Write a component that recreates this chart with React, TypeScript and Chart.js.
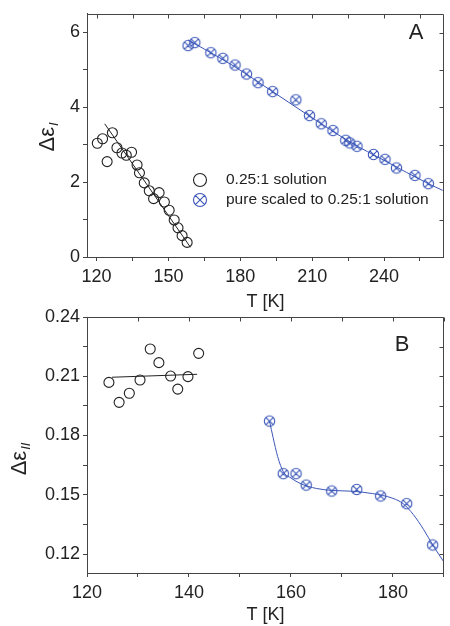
import React, { useEffect, useRef } from 'react';
import { Chart, registerables } from 'chart.js';

Chart.register(...registerables);

const FONT = '"Liberation Sans", Arial, Helvetica, sans-serif';
const BLUE = '#3a56b8';
const BLACK = '#222222';
const AXIS = '#444444';
const TEXT = '#222222';

// ---------- Panel A ----------
const solA_T = [120.3, 122.5, 124.4, 126.6, 128.5, 130.6, 132.4, 134.6, 136.9, 137.9, 139.9, 142.0, 143.8, 146.1, 148.3, 150.3, 152.4, 154.0, 155.7, 157.8];
const solA_V = [3.04, 3.16, 2.55, 3.32, 2.92, 2.78, 2.72, 2.80, 2.46, 2.25, 1.98, 1.77, 1.56, 1.72, 1.47, 1.25, 0.99, 0.78, 0.57, 0.39];
const pureA_T = [158.2, 161.0, 167.7, 172.7, 177.8, 182.6, 187.4, 193.5, 203.2, 208.9, 213.8, 218.7, 224.0, 225.7, 228.7, 235.6, 240.4, 245.2, 252.9, 258.5];
const pureA_V = [5.65, 5.73, 5.46, 5.31, 5.13, 4.89, 4.66, 4.42, 4.20, 3.78, 3.56, 3.38, 3.12, 3.05, 2.96, 2.74, 2.61, 2.38, 2.18, 1.96];
const fitSolA_T = [123.4, 159.2];
const fitSolA_V = [3.56, 0.26];
const fitPureA_T = [158.2, 161.0, 177.8, 193.5, 213.8, 225.9, 240.4, 258.5, 264.5];
const fitPureA_V = [5.80, 5.70, 5.08, 4.42, 3.56, 3.07, 2.57, 1.96, 1.78];
const xTicksA = [120, 135, 150, 165, 180, 195, 210, 225, 240, 255];
const xLabelsA = [120, 150, 180, 210, 240];
const yTicksA = [0, 1, 2, 3, 4, 5, 6];
const yLabelsA = [0, 2, 4, 6];

// ---------- Panel B ----------
const solB_T = [124.3, 126.3, 128.3, 130.4, 132.4, 134.1, 136.4, 137.8, 139.8, 141.9];
const solB_V = [0.2069, 0.1968, 0.2014, 0.2081, 0.2238, 0.2169, 0.2101, 0.2035, 0.2098, 0.2216];
const pureB_T = [155.8, 158.5, 161.0, 163.0, 168.0, 172.9, 177.6, 182.7, 187.8];
const pureB_V = [0.1873, 0.1607, 0.1607, 0.1549, 0.1519, 0.1527, 0.1494, 0.1455, 0.1246];
const fitSolB_T = [124.9, 141.6];
const fitSolB_V = [0.2095, 0.2110];
const fitPureB_T = [155.8, 156.5, 157.4, 158.5, 160, 162, 165, 168, 172, 176, 180, 182, 184, 186, 188, 190];
const fitPureB_V = [0.1873, 0.179, 0.1693, 0.1617, 0.1585, 0.1555, 0.1532, 0.1522, 0.1518, 0.1506, 0.1482, 0.1455, 0.140, 0.1325, 0.1238, 0.116];
const xTicksB = [120, 130, 140, 150, 160, 170, 180, 190];
const xLabelsB = [120, 140, 160, 180];
const yTicksB = [0.12, 0.135, 0.15, 0.165, 0.18, 0.195, 0.21, 0.225, 0.24];
const yLabelsB = [0.12, 0.15, 0.18, 0.21, 0.24];

const legendLabels = ['0.25:1 solution', 'pure scaled to 0.25:1 solution'];

const zip = (xs: number[], ys: number[]) => xs.map((x, i) => ({ x, y: ys[i] }));
const inList = (list: number[], v: number) => list.some((m) => Math.abs(m - v) < 1e-9);

function makeCrossCircle(r: number, color: string, lw: number) {
  const size = Math.ceil(2 * r + 2 * lw + 2);
  const c = document.createElement('canvas');
  c.width = size;
  c.height = size;
  const ctx = c.getContext('2d')!;
  const m = size / 2;
  ctx.strokeStyle = color;
  ctx.lineWidth = lw;
  drawCrossCircle(ctx, m, m, r);
  return c;
}

function drawCrossCircle(ctx: CanvasRenderingContext2D, x: number, y: number, r: number) {
  const d = r * Math.SQRT1_2;
  ctx.beginPath();
  ctx.arc(x, y, r, 0, Math.PI * 2);
  ctx.moveTo(x - d, y - d);
  ctx.lineTo(x + d, y + d);
  ctx.moveTo(x + d, y - d);
  ctx.lineTo(x - d, y + d);
  ctx.stroke();
}

type Decor = {
  letter: string;
  letterX: number;
  letterY: number;
  sub: string;
  titleX: number;
  titleY: number;
  legend: boolean;
};

function makeDecorPlugin(d: Decor) {
  return {
    id: 'decor',
    afterDraw(chart: any) {
      const { ctx, chartArea } = chart;
      const { left, right, top, bottom } = chartArea;
      const xs = chart.scales.x;
      const ys = chart.scales.y;
      ctx.save();
      // mirrored frame with inward ticks
      ctx.strokeStyle = AXIS;
      ctx.lineWidth = 1;
      ctx.beginPath();
      const tY = Math.round(top) + 0.5;
      const rX = Math.round(right) - 0.5;
      ctx.moveTo(left, tY);
      ctx.lineTo(rX, tY);
      ctx.lineTo(rX, bottom);
      xs.ticks.forEach((t: any) => {
        const px = Math.round(xs.getPixelForValue(t.value)) + 0.5;
        ctx.moveTo(px, tY);
        ctx.lineTo(px, tY + 4);
      });
      ys.ticks.forEach((t: any) => {
        const py = Math.round(ys.getPixelForValue(t.value)) + 0.5;
        ctx.moveTo(rX, py);
        ctx.lineTo(rX - 4, py);
      });
      ctx.stroke();

      // panel letter
      ctx.fillStyle = TEXT;
      ctx.font = `22px ${FONT}`;
      ctx.textAlign = 'center';
      ctx.textBaseline = 'middle';
      ctx.fillText(d.letter, d.letterX, d.letterY);

      // y title: Δε with italic subscript
      ctx.save();
      ctx.translate(d.titleX, d.titleY);
      ctx.rotate(-Math.PI / 2);
      ctx.textAlign = 'left';
      ctx.textBaseline = 'alphabetic';
      ctx.font = `22px ${FONT}`;
      const main = 'Δε';
      const w1 = ctx.measureText(main).width;
      ctx.font = `italic 13px ${FONT}`;
      const w2 = ctx.measureText(d.sub).width;
      const start = -(w1 + w2 + 1) / 2;
      ctx.font = `22px ${FONT}`;
      ctx.fillText(main, start, 0);
      ctx.font = `italic 13px ${FONT}`;
      ctx.fillText(d.sub, start + w1 + 1, 4);
      ctx.restore();

      if (d.legend) {
        const mx = 200;
        const tx = 226;
        const y1 = 180;
        const y2 = 200;
        ctx.lineWidth = 1.1;
        ctx.strokeStyle = BLACK;
        ctx.beginPath();
        ctx.arc(mx, y1, 6.5, 0, Math.PI * 2);
        ctx.stroke();
        ctx.strokeStyle = BLUE;
        drawCrossCircle(ctx, mx, y2, 6.5);
        ctx.fillStyle = TEXT;
        ctx.font = `15.5px ${FONT}`;
        ctx.textAlign = 'left';
        ctx.textBaseline = 'middle';
        ctx.fillText(legendLabels[0], tx, y1);
        ctx.fillText(legendLabels[1], tx, y2);
      }
      ctx.restore();
    },
  };
}

function axisBase(ticksList: number[], labels: number[], fmt: (v: number) => string) {
  return {
    type: 'linear' as const,
    afterBuildTicks: (s: any) => {
      s.ticks = ticksList.map((v) => ({ value: v }));
    },
    ticks: {
      callback: (v: any) => (inList(labels, Number(v)) ? fmt(Number(v)) : ''),
      font: { family: FONT, size: 18 },
      color: TEXT,
      autoSkip: false,
      maxRotation: 0,
      minRotation: 0,
    },
    grid: { drawOnChartArea: false, drawTicks: true, tickLength: 4, color: AXIS, lineWidth: 1 },
    border: { display: true, color: AXIS, width: 1 },
  };
}

function pointDatasets(solT: number[], solV: number[], pureT: number[], pureV: number[], marker: HTMLCanvasElement) {
  return [
    {
      label: legendLabels[0],
      data: zip(solT, solV),
      showLine: false,
      pointStyle: 'circle',
      pointRadius: 5,
      pointBorderColor: BLACK,
      pointBackgroundColor: 'rgba(0,0,0,0)',
      pointBorderWidth: 1.1,
    },
    {
      label: legendLabels[1],
      data: zip(pureT, pureV),
      showLine: false,
      pointStyle: marker,
      pointRadius: 5,
    },
  ];
}

function lineDataset(xs: number[], ys: number[], color: string) {
  return {
    data: zip(xs, ys),
    showLine: true,
    borderColor: color,
    borderWidth: 1,
    pointRadius: 0,
    cubicInterpolationMode: 'monotone' as const,
  };
}

export default function App() {
  const refA = useRef<HTMLCanvasElement>(null);
  const refB = useRef<HTMLCanvasElement>(null);

  useEffect(() => {
    const marker = makeCrossCircle(5.2, BLUE, 1.1);
    const common = {
      responsive: false,
      maintainAspectRatio: false,
      animation: false as const,
      events: [] as any[],
      plugins: { legend: { display: false }, tooltip: { enabled: false } },
    };

    const xA: any = axisBase(xTicksA, xLabelsA, (v) => String(v));
    xA.min = 116;
    xA.max = 265;
    xA.afterFit = (s: any) => {
      s.height = 63;
    };
    xA.ticks.padding = 5;
    xA.title = { display: true, text: 'T [K]', font: { family: FONT, size: 18 }, color: TEXT, padding: { top: 0, bottom: 7 } };
    const yA: any = axisBase(yTicksA, yLabelsA, (v) => String(v));
    yA.min = 0;
    yA.max = 6.5;
    yA.afterFit = (s: any) => {
      s.width = 87;
    };
    yA.ticks.padding = 3;

    const chartA = new Chart(refA.current!, {
      type: 'scatter',
      data: {
        datasets: [
          ...pointDatasets(solA_T, solA_V, pureA_T, pureA_V, marker),
          lineDataset(fitSolA_T, fitSolA_V, BLACK),
          lineDataset(fitPureA_T, fitPureA_V, BLUE),
        ] as any,
      },
      options: {
        ...common,
        layout: { padding: { top: 13, right: 2, left: 0, bottom: 0 } },
        scales: { x: xA, y: yA },
      } as any,
      plugins: [makeDecorPlugin({ letter: 'A', letterX: 416, letterY: 33, sub: 'I', titleX: 54, titleY: 137, legend: true })],
    });

    const xB: any = axisBase(xTicksB, xLabelsB, (v) => String(v));
    xB.min = 120;
    xB.max = 190;
    xB.afterFit = (s: any) => {
      s.height = 53;
    };
    xB.ticks.padding = 5;
    xB.title = { display: true, text: 'T [K]', font: { family: FONT, size: 18 }, color: TEXT, padding: { top: 0, bottom: 0 } };
    const yB: any = axisBase(yTicksB, yLabelsB, (v) => v.toFixed(2));
    yB.min = 0.1104;
    yB.max = 0.24;
    yB.afterFit = (s: any) => {
      s.width = 87;
    };
    yB.ticks.padding = 3;

    const chartB = new Chart(refB.current!, {
      type: 'scatter',
      data: {
        datasets: [
          ...pointDatasets(solB_T, solB_V, pureB_T, pureB_V, marker),
          lineDataset(fitSolB_T, fitSolB_V, BLACK),
          lineDataset(fitPureB_T, fitPureB_V, BLUE),
        ] as any,
      },
      options: {
        ...common,
        layout: { padding: { top: 17, right: 2, left: 0, bottom: 0 } },
        scales: { x: xB, y: yB },
      } as any,
      plugins: [makeDecorPlugin({ letter: 'B', letterX: 402, letterY: 45, sub: 'II', titleX: 26, titleY: 159, legend: false })],
    });

    return () => {
      chartA.destroy();
      chartB.destroy();
    };
  }, []);

  return (
    <div style={{ position: 'absolute', left: 0, top: 0, width: 450, height: 626, background: '#ffffff', overflow: 'hidden' }}>
      <canvas ref={refA} width={450} height={320} style={{ position: 'absolute', left: 0, top: 0, width: 450, height: 320, display: 'block' }} />
      <canvas ref={refB} width={450} height={326} style={{ position: 'absolute', left: 0, top: 300, width: 450, height: 326, display: 'block' }} />
    </div>
  );
}
